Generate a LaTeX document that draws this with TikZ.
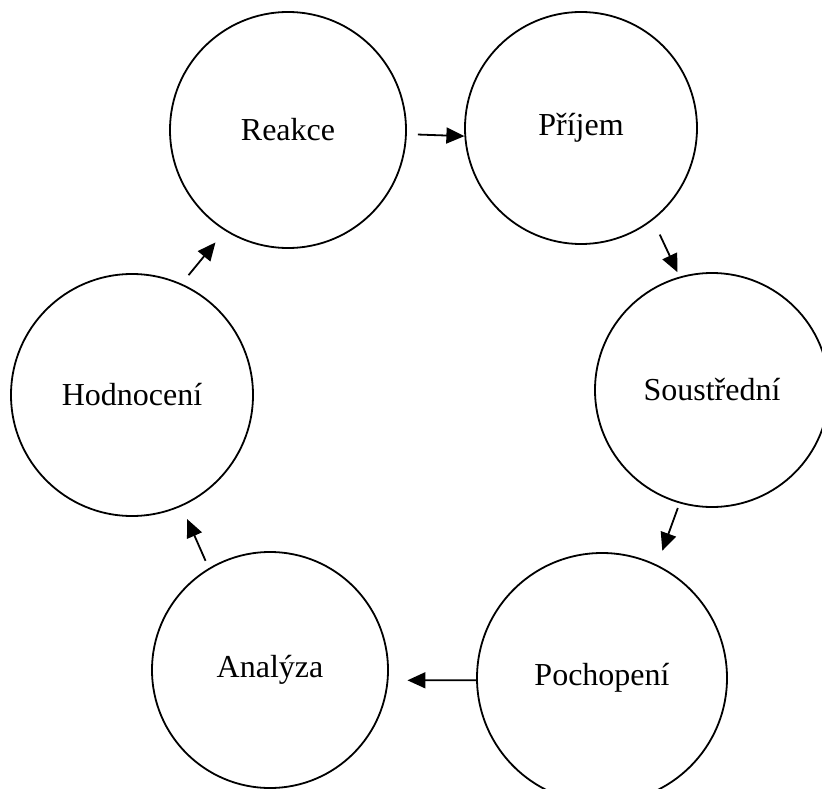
\documentclass[tikz,border=0pt]{standalone}
\usepackage{fontspec}
\setmainfont{Liberation Serif}
\usetikzlibrary{arrows.meta}
\begin{document}
\begin{tikzpicture}[x=1pt,y=-1pt,
  stage/.style={circle,draw,line width=1.8pt,inner sep=0pt,font=\fontsize{32}{36}\selectfont},
  flow/.style={line width=1.8pt,-{Triangle[length=18pt,width=16pt]}}]
\clip (0,0) rectangle (822,789);
\node[stage,minimum size=236pt] (reakce) at (288,130) {Reakce};
\node[stage,minimum size=232pt] (prijem) at (581,128) {Příjem};
\node[stage,minimum size=234pt] (soustredni) at (712,390) {Soustřední};
\node[stage,minimum size=250pt] (pochopeni) at (602,678) {Pochopení};
\node[stage,minimum size=236pt] (analyza) at (270,670) {Analýza};
\node[stage,minimum size=242pt] (hodnoceni) at (132,395) {Hodnocení};
\draw[flow,shorten <=11pt] (reakce.-2) -- (prijem.184);
\draw[flow,shorten <=16pt,shorten >=5pt] (prijem.-52) -- (soustredni.106);
\draw[flow,shorten <=5pt,shorten >=15pt] (soustredni.-106) -- (pochopeni.64);
\draw[flow,shorten >=19pt] (pochopeni.181) -- (analyza.-5);
\draw[flow,shorten <=8pt,shorten >=14pt] (analyza.121) -- (hodnoceni.-66);
\draw[flow,shorten <=11pt,shorten >=15pt] (hodnoceni.66) -- (reakce.238);
\end{tikzpicture}
\end{document}
